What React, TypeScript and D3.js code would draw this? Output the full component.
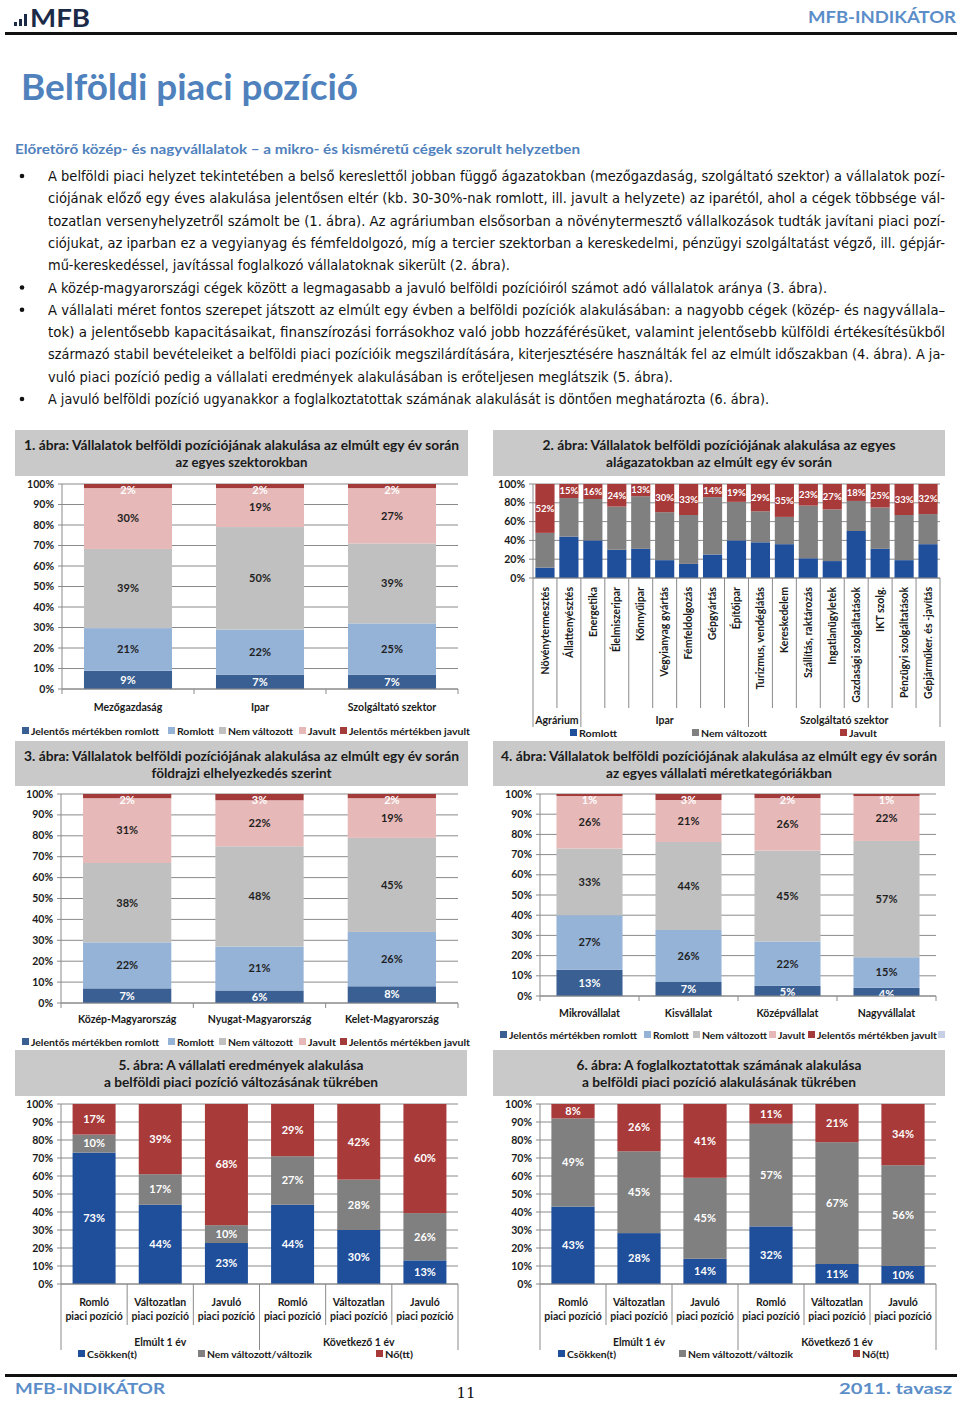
import * as d3 from "d3";

const FONT = "Lato, 'Noto Sans', sans-serif";
const BODY_FONT = "'Liberation Sans Narrow', 'DejaVu Sans Condensed', Lato, sans-serif";

// 1. ábra – szektorok
const sectorCats = ["Mezőgazdaság", "Ipar", "Szolgáltató szektor"];
const sectorSigWorse = [9, 7, 7];
const sectorWorse = [21, 22, 25];
const sectorSame = [39, 50, 39];
const sectorBetter = [30, 19, 27];
const sectorSigBetter = [2, 2, 2];

// 2. ábra – alágazatok
const subCats = [
  "Növénytermesztés", "Állattenyésztés", "Energetika", "Élelmiszeripar", "Könnyűipar",
  "Vegyianyag gyártás", "Fémfeldolgozás", "Gépgyártás", "Építőipar", "Turizmus, vendéglátás",
  "Kereskedelem", "Szállítás, raktározás", "Ingatlanügyletek", "Gazdasági szolgáltatások",
  "IKT szolg.", "Pénzügyi szolgáltatások", "Gépjárműker. és -javítás",
];
const subWorse = [11, 44, 40, 30, 31, 19, 15, 25, 40, 38, 36, 21, 18, 50, 31, 19, 36];
const subSame = [37, 41, 44, 46, 56, 51, 52, 61, 41, 33, 29, 56, 55, 32, 44, 48, 32];
const subBetter = [52, 15, 16, 24, 13, 30, 33, 14, 19, 29, 35, 23, 27, 18, 25, 33, 32];
const subGroups = ["Agrárium", "Ipar", "Szolgáltató szektor"];
const subGroupSizes = [2, 7, 8];

// 3. ábra – régiók
const regionCats = ["Közép-Magyarország", "Nyugat-Magyarország", "Kelet-Magyarország"];
const regionSigWorse = [7, 6, 8];
const regionWorse = [22, 21, 26];
const regionSame = [38, 48, 45];
const regionBetter = [31, 22, 19];
const regionSigBetter = [2, 3, 2];

// 4. ábra – méretkategóriák
const sizeCats = ["Mikrovállalat", "Kisvállalat", "Középvállalat", "Nagyvállalat"];
const sizeSigWorse = [13, 7, 5, 4];
const sizeWorse = [27, 26, 22, 15];
const sizeSame = [33, 44, 45, 57];
const sizeBetter = [26, 21, 26, 22];
const sizeSigBetter = [1, 3, 2, 1];

// 5-6. ábra
const posCats = [
  ["Romló", "piaci pozíció"], ["Változatlan", "piaci pozíció"], ["Javuló", "piaci pozíció"],
  ["Romló", "piaci pozíció"], ["Változatlan", "piaci pozíció"], ["Javuló", "piaci pozíció"],
];
const periodGroups = ["Elmúlt 1 év", "Következő 1 év"];
const periodSizes = [3, 3];
const resultDown = [73, 44, 23, 44, 30, 13];
const resultSame = [10, 17, 10, 27, 28, 26];
const resultUp = [17, 39, 68, 29, 42, 60];
const emplDown = [43, 28, 14, 32, 11, 10];
const emplSame = [49, 45, 45, 57, 67, 56];
const emplUp = [8, 26, 41, 11, 21, 34];

const fiveNames = ["Jelentős mértékben romlott", "Romlott", "Nem változott", "Javult", "Jelentős mértékben javult"];
const fiveColors = ["#3a5f93", "#95b3d7", "#c0c0c0", "#e6b9b8", "#a33b3b"];
const fiveLabelColors = ["#ffffff", "#1f1f1f", "#1f1f1f", "#1f1f1f", "#ffffff"];
const threeColors = ["#1f4f9b", "#808080", "#a83a3a"];

type Series = { values: number[]; color: string; label: string | null };
type LegendItem = { name: string; color: string; x: number; w: number };
type Group = { label: string; size: number };

type ChartProps = {
  box: [number, number, number, number];
  titles: { text: string; w: number }[];
  plot: { left: number; right: number; top: number; bottom: number };
  cats: string[][];
  series: Series[];
  tickStep: number;
  pad: number;
  mode: "plain" | "rotated" | "twoLine";
  catY: number;
  labelSize?: number;
  groups?: Group[];
  groupY?: number;
  sepBottom?: number;
  groupBottom?: number;
  legend: LegendItem[];
  legendY: number;
  extraMarker?: number;
};

function StackChart(p: ChartProps) {
  const { plot } = p;
  const n = p.cats.length;
  const keys = p.series.map((_, i) => "s" + i);
  const rows = p.cats.map((_, ci) => {
    const r: Record<string, number> = {};
    p.series.forEach((s, si) => (r["s" + si] = s.values[ci]));
    return r;
  });
  const stacked = d3.stack<Record<string, number>>().keys(keys).offset(d3.stackOffsetExpand)(rows);
  const x = d3
    .scaleBand<number>()
    .domain(d3.range(n))
    .range([plot.left, plot.right])
    .paddingInner(p.pad)
    .paddingOuter(p.pad / 2);
  const y = d3.scaleLinear().domain([0, 1]).range([plot.bottom, plot.top]);
  const ticks = d3.range(0, 1 + 1e-9, p.tickStep);
  const step = x.step();
  const [bx, by, bw, bh] = p.box;
  const cx = bx + bw / 2;
  const labelSize = p.labelSize ?? 11;

  const groupStarts: number[] = [];
  if (p.groups) {
    let acc = 0;
    p.groups.forEach((g) => {
      groupStarts.push(acc);
      acc += g.size;
    });
  }
  const bounds = new Set<number>(p.groups ? [...groupStarts, n] : []);

  return (
    <g>
      <rect x={bx} y={by} width={bw} height={bh} fill="#c9c9c9" />
      {p.titles.map((t, i) => (
        <text
          key={i}
          x={cx}
          y={by + 20 + i * 17}
          textAnchor="middle"
          fontFamily={FONT}
          fontWeight={700}
          fontSize={13}
          fill="#1a1a1a"
          textLength={t.w}
          lengthAdjust="spacingAndGlyphs"
        >
          {t.text}
        </text>
      ))}
      {ticks.map((t, i) => (
        <g key={i}>
          <line x1={plot.left - 4} x2={plot.right} y1={y(t)} y2={y(t)} stroke="#8a8a8a" strokeWidth={1} />
          <text
            x={plot.left - 8}
            y={y(t) + 3.5}
            textAnchor="end"
            fontFamily={FONT}
            fontWeight={700}
            fontSize={10.5}
            fill="#1a1a1a"
          >
            {Math.round(t * 100)}%
          </text>
        </g>
      ))}
      {stacked.map((layer, si) =>
        layer.map((d, ci) => (
          <rect
            key={si + "-" + ci}
            x={x(ci)}
            y={y(d[1])}
            width={x.bandwidth()}
            height={Math.max(0, y(d[0]) - y(d[1]))}
            fill={p.series[si].color}
          />
        ))
      )}
      {stacked.map((layer, si) =>
        p.series[si].label
          ? layer.map((d, ci) => {
              const c = (y(d[0]) + y(d[1])) / 2;
              const yy = Math.max(c, y(d[1]) + 6) + labelSize * 0.35;
              return (
                <text
                  key={"l" + si + "-" + ci}
                  x={(x(ci) || 0) + x.bandwidth() / 2}
                  y={yy}
                  textAnchor="middle"
                  fontFamily={FONT}
                  fontWeight={700}
                  fontSize={labelSize}
                  fill={p.series[si].label as string}
                >
                  {p.series[si].values[ci]}%
                </text>
              );
            })
          : null
      )}
      <line x1={plot.left} x2={plot.left} y1={plot.top} y2={plot.bottom} stroke="#8a8a8a" />
      <line x1={plot.left} x2={plot.right} y1={plot.bottom} y2={plot.bottom} stroke="#8a8a8a" />
      {p.mode === "plain" &&
        d3.range(n + 1).map((i) => (
          <line
            key={"t" + i}
            x1={plot.left + i * step}
            x2={plot.left + i * step}
            y1={plot.bottom}
            y2={plot.bottom + 5}
            stroke="#8a8a8a"
          />
        ))}
      {p.mode !== "plain" &&
        d3.range(n + 1).map((i) => (
          <line
            key={"s" + i}
            x1={plot.left + i * step}
            x2={plot.left + i * step}
            y1={plot.bottom}
            y2={bounds.has(i) ? p.groupBottom : p.sepBottom}
            stroke="#8a8a8a"
          />
        ))}
      {p.cats.map((c, i) => {
        const mx = (x(i) || 0) + x.bandwidth() / 2;
        if (p.mode === "rotated") {
          return (
            <text
              key={"c" + i}
              transform={`translate(${mx},${plot.bottom + 9}) rotate(-90)`}
              textAnchor="end"
              dy="0.35em"
              fontFamily={FONT}
              fontWeight={700}
              fontSize={10.5}
              fill="#1a1a1a"
            >
              {c[0]}
            </text>
          );
        }
        return (
          <text
            key={"c" + i}
            x={mx}
            y={p.catY}
            textAnchor="middle"
            fontFamily={FONT}
            fontWeight={700}
            fontSize={10.5}
            fill="#1a1a1a"
          >
            {c.map((line, li) => (
              <tspan key={li} x={mx} dy={li === 0 ? 0 : 14}>
                {line}
              </tspan>
            ))}
          </text>
        );
      })}
      {p.groups &&
        p.groups.map((g, gi) => (
          <text
            key={"g" + gi}
            x={plot.left + (groupStarts[gi] + g.size / 2) * step}
            y={p.groupY}
            textAnchor="middle"
            fontFamily={FONT}
            fontWeight={700}
            fontSize={10.5}
            fill="#1a1a1a"
          >
            {g.label}
          </text>
        ))}
      {p.legend.map((l, i) => (
        <g key={"lg" + i}>
          <rect x={l.x} y={p.legendY - 4} width={7} height={7} fill={l.color} />
          <text
            x={l.x + 9}
            y={p.legendY + 3.5}
            fontFamily={FONT}
            fontWeight={700}
            fontSize={10}
            fill="#1a1a1a"
            textLength={l.w}
            lengthAdjust="spacingAndGlyphs"
          >
            {l.name}
          </text>
        </g>
      ))}
      {p.extraMarker !== undefined && (
        <rect x={p.extraMarker} y={p.legendY - 4} width={7} height={7} fill="#c6cfe3" />
      )}
    </g>
  );
}

const five = (vals: number[][]): Series[] =>
  vals.map((v, i) => ({ values: v, color: fiveColors[i], label: fiveLabelColors[i] }));

const fiveLegend = (xs: number[], ws: number[]): LegendItem[] =>
  fiveNames.map((name, i) => ({ name, color: fiveColors[i], x: xs[i], w: ws[i] }));

const bodyLines = [
  { t: "A belföldi piaci helyzet tekintetében a belső kereslettől jobban függő ágazatokban (mezőgazdaság, szolgáltató szektor) a vállalatok pozí-", end: 945, b: true },
  { t: "ciójának előző egy éves alakulása jelentősen eltér (kb. 30-30%-nak romlott, ill. javult a helyzete) az iparétól, ahol a cégek többsége vál-", end: 945, b: false },
  { t: "tozatlan versenyhelyzetről számolt be (1. ábra). Az agráriumban elsősorban a növénytermesztő vállalkozások tudták javítani piaci pozí-", end: 945, b: false },
  { t: "ciójukat, az iparban ez a vegyianyag és fémfeldolgozó, míg a tercier szektorban a kereskedelmi, pénzügyi szolgáltatást végző, ill. gépjár-", end: 945, b: false },
  { t: "mű-kereskedéssel, javítással foglalkozó vállalatoknak sikerült (2. ábra).", end: 510, b: false },
  { t: "A közép-magyarországi cégek között a legmagasabb a javuló belföldi pozícióiról számot adó vállalatok aránya (3. ábra).", end: 827, b: true },
  { t: "A vállalati méret fontos szerepet játszott az elmúlt egy évben a belföldi pozíciók alakulásában: a nagyobb cégek (közép- és nagyvállala–", end: 945, b: true },
  { t: "tok) a jelentősebb kapacitásaikat, finanszírozási forrásokhoz való jobb hozzáférésüket, valamint jelentősebb külföldi értékesítésükből", end: 945, b: false },
  { t: "származó stabil bevételeiket a belföldi piaci pozícióik megszilárdítására, kiterjesztésére használták fel az elmúlt időszakban (4. ábra). A ja-", end: 945, b: false },
  { t: "vuló piaci pozíció pedig a vállalati eredmények alakulásában is erőteljesen meglátszik (5. ábra).", end: 673, b: false },
  { t: "A javuló belföldi pozíció ugyanakkor a foglalkoztatottak számának alakulását is döntően meghatározta (6. ábra).", end: 769, b: true },
];

export default function App() {
  const blue = "#4f81bd";
  return (
    <svg
      width={960}
      height={1401}
      style={{ position: "absolute", left: 0, top: 0, background: "#fff" }}
    >
      <rect width={960} height={1401} fill="#fff" />
      {/* fejléc */}
      <rect x={14} y={22} width={3} height={4} fill="#1b2a47" />
      <rect x={19} y={19} width={3} height={7} fill="#1b2a47" />
      <rect x={24} y={14} width={3} height={12} fill="#1b2a47" />
      <text x={30} y={27} fontFamily={FONT} fontWeight={700} fontSize={24} fill="#1b2a47" textLength={60} lengthAdjust="spacingAndGlyphs">
        MFB
      </text>
      <text x={956} y={23} textAnchor="end" fontFamily={FONT} fontWeight={700} fontSize={17} fill="#5b8ec9" textLength={148} lengthAdjust="spacingAndGlyphs">
        MFB-INDIKÁTOR
      </text>
      <rect x={5} y={32} width={952} height={3} fill="#111" />
      <text x={21} y={100} fontFamily={FONT} fontWeight={700} fontSize={36} fill={blue} textLength={337} lengthAdjust="spacingAndGlyphs">
        Belföldi piaci pozíció
      </text>
      <text x={15} y={154} fontFamily={FONT} fontWeight={700} fontSize={14} fill={blue} textLength={565} lengthAdjust="spacingAndGlyphs">
        Előretörő közép- és nagyvállalatok – a mikro- és kisméretű cégek szorult helyzetben
      </text>
      {bodyLines.map((l, i) => (
        <g key={i}>
          {l.b && <circle cx={22} cy={176 + i * 22.3} r={2.3} fill="#111" />}
          <text
            x={48}
            y={181 + i * 22.3}
            fontFamily={BODY_FONT}
            fontSize={14}
            fill="#111"
            textLength={l.end - 48}
            lengthAdjust="spacingAndGlyphs"
          >
            {l.t}
          </text>
        </g>
      ))}

      <StackChart
        box={[15, 430, 453, 46]}
        titles={[
          { text: "1. ábra: Vállalatok  belföldi pozíciójának  alakulása  az elmúlt egy év során", w: 435 },
          { text: "az egyes szektorokban", w: 132 },
        ]}
        plot={{ left: 62, right: 458, top: 484, bottom: 689 }}
        cats={sectorCats.map((c) => [c])}
        series={five([sectorSigWorse, sectorWorse, sectorSame, sectorBetter, sectorSigBetter])}
        tickStep={0.1}
        pad={0.333}
        mode="plain"
        catY={711}
        legend={fiveLegend([22, 168, 219, 299, 340], [128, 37, 65, 28, 121])}
        legendY={731}
      />

      <StackChart
        box={[493, 430, 452, 46]}
        titles={[
          { text: "2. ábra: Vállalatok  belföldi pozíciójának  alakulása  az egyes", w: 353 },
          { text: "alágazatokban  az elmúlt egy év során", w: 226 },
        ]}
        plot={{ left: 533, right: 940, top: 484, bottom: 578 }}
        cats={subCats.map((c) => [c])}
        series={[
          { values: subWorse, color: threeColors[0], label: null },
          { values: subSame, color: threeColors[1], label: null },
          { values: subBetter, color: threeColors[2], label: "#ffffff" },
        ]}
        tickStep={0.2}
        pad={0.2}
        mode="rotated"
        catY={0}
        labelSize={9.5}
        groups={subGroups.map((g, i) => ({ label: g, size: subGroupSizes[i] }))}
        groupY={724}
        sepBottom={708}
        groupBottom={727}
        legend={[
          { name: "Romlott", color: threeColors[0], x: 570, w: 38 },
          { name: "Nem változott", color: threeColors[1], x: 692, w: 66 },
          { name: "Javult", color: threeColors[2], x: 840, w: 28 },
        ]}
        legendY={733}
      />

      <StackChart
        box={[15, 741, 453, 45]}
        titles={[
          { text: "3. ábra: Vállalatok  belföldi pozíciójának  alakulása  az elmúlt egy év során", w: 435 },
          { text: "földrajzi elhelyezkedés szerint", w: 180 },
        ]}
        plot={{ left: 61, right: 458, top: 794, bottom: 1003 }}
        cats={regionCats.map((c) => [c])}
        series={five([regionSigWorse, regionWorse, regionSame, regionBetter, regionSigBetter])}
        tickStep={0.1}
        pad={0.333}
        mode="plain"
        catY={1023}
        legend={fiveLegend([22, 168, 219, 299, 340], [128, 37, 65, 28, 121])}
        legendY={1042}
      />

      <StackChart
        box={[493, 741, 452, 45]}
        titles={[
          { text: "4. ábra: Vállalatok  belföldi pozíciójának  alakulása  az elmúlt egy év során", w: 436 },
          { text: "az egyes vállalati  méretkategóriákban", w: 226 },
        ]}
        plot={{ left: 540, right: 936, top: 794, bottom: 996 }}
        cats={sizeCats.map((c) => [c])}
        series={five([sizeSigWorse, sizeWorse, sizeSame, sizeBetter, sizeSigBetter])}
        tickStep={0.1}
        pad={0.333}
        mode="plain"
        catY={1017}
        legend={fiveLegend([500, 644, 693, 769, 808], [128, 36, 65, 27, 120])}
        legendY={1035}
        extraMarker={938}
      />

      <StackChart
        box={[15, 1050, 452, 46]}
        titles={[
          { text: "5. ábra: A vállalati  eredmények alakulása", w: 245 },
          { text: "a belföldi  piaci  pozíció  változásának  tükrében", w: 274 },
        ]}
        plot={{ left: 61, right: 458, top: 1104, bottom: 1284 }}
        cats={posCats}
        series={[
          { values: resultDown, color: threeColors[0], label: "#ffffff" },
          { values: resultSame, color: threeColors[1], label: "#ffffff" },
          { values: resultUp, color: threeColors[2], label: "#ffffff" },
        ]}
        tickStep={0.1}
        pad={0.35}
        mode="twoLine"
        catY={1306}
        groups={periodGroups.map((g, i) => ({ label: g, size: periodSizes[i] }))}
        groupY={1346}
        sepBottom={1325}
        groupBottom={1350}
        legend={[
          { name: "Csökken(t)", color: threeColors[0], x: 78, w: 50 },
          { name: "Nem változott/változik", color: threeColors[1], x: 198, w: 105 },
          { name: "Nő(tt)", color: threeColors[2], x: 376, w: 28 },
        ]}
        legendY={1354}
      />

      <StackChart
        box={[493, 1050, 452, 46]}
        titles={[
          { text: "6. ábra: A foglalkoztatottak  számának  alakulása", w: 285 },
          { text: "a belföldi  piaci  pozíció  alakulásának  tükrében", w: 274 },
        ]}
        plot={{ left: 540, right: 936, top: 1104, bottom: 1284 }}
        cats={posCats}
        series={[
          { values: emplDown, color: threeColors[0], label: "#ffffff" },
          { values: emplSame, color: threeColors[1], label: "#ffffff" },
          { values: emplUp, color: threeColors[2], label: "#ffffff" },
        ]}
        tickStep={0.1}
        pad={0.345}
        mode="twoLine"
        catY={1306}
        groups={periodGroups.map((g, i) => ({ label: g, size: periodSizes[i] }))}
        groupY={1346}
        sepBottom={1325}
        groupBottom={1350}
        legend={[
          { name: "Csökken(t)", color: threeColors[0], x: 558, w: 49 },
          { name: "Nem változott/változik", color: threeColors[1], x: 679, w: 105 },
          { name: "Nő(tt)", color: threeColors[2], x: 853, w: 27 },
        ]}
        legendY={1354}
      />

      {/* lábléc */}
      <rect x={5} y={1374} width={952} height={3} fill="#111" />
      <text x={15} y={1394} fontFamily={FONT} fontWeight={700} fontSize={16} fill="#5b8ec9" textLength={150} lengthAdjust="spacingAndGlyphs">
        MFB-INDIKÁTOR
      </text>
      <text x={466} y={1398} textAnchor="middle" fontFamily="'DejaVu Serif', serif" fontSize={15} fill="#111">
        11
      </text>
      <text x={952} y={1394} textAnchor="end" fontFamily={FONT} fontWeight={700} fontSize={16} fill="#5b8ec9" textLength={113} lengthAdjust="spacingAndGlyphs">
        2011. tavasz
      </text>
    </svg>
  );
}
